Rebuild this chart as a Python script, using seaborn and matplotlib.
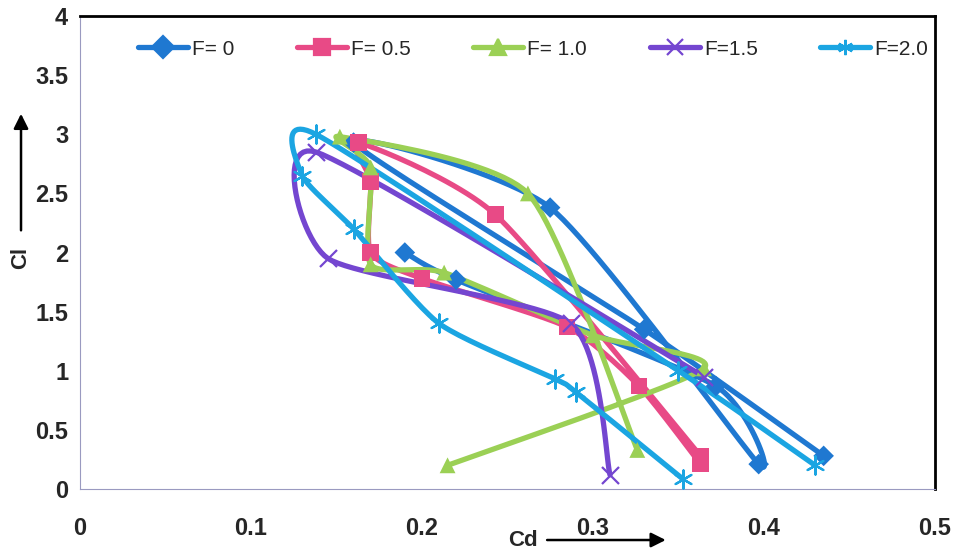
import numpy as np
import pandas as pd
import matplotlib
matplotlib.use("Agg")
import matplotlib.pyplot as plt
from matplotlib.lines import Line2D
import seaborn as sns

# ── Data ──────────────────────────────────────────────────────────
F0_CD = [0.19, 0.22, 0.372, 0.397, 0.275, 0.160, 0.330, 0.435]
F0_CL = [2.00, 1.77, 0.87, 0.21, 2.38, 2.93, 1.35, 0.28]

F05_CD = [0.363, 0.243, 0.163, 0.170, 0.170, 0.200, 0.285, 0.327, 0.363]
F05_CL = [0.28, 2.32, 2.93, 2.60, 2.00, 1.78, 1.37, 0.87, 0.21]

F10_CD = [0.326, 0.262, 0.152, 0.170, 0.170, 0.213, 0.300, 0.365, 0.215]
F10_CL = [0.33, 2.50, 2.98, 2.72, 1.90, 1.83, 1.30, 1.02, 0.20]

F15_CD = [0.310, 0.287, 0.145, 0.138, 0.365]
F15_CL = [0.12, 1.40, 1.95, 2.85, 0.95]

F20_CD = [0.430, 0.350, 0.138, 0.130, 0.160, 0.210, 0.278, 0.290, 0.353]
F20_CL = [0.20, 1.00, 3.00, 2.65, 2.20, 1.40, 0.93, 0.82, 0.08]

LABELS = ["F= 0", "F= 0.5", "F= 1.0", "F=1.5", "F=2.0"]
SERIES = [(F0_CD, F0_CL), (F05_CD, F05_CL), (F10_CD, F10_CL),
          (F15_CD, F15_CL), (F20_CD, F20_CL)]
COLORS = ["#1f78d1", "#e84a86", "#9bd055", "#7446d0", "#1ba5e2"]
MARKERS = ["D", "s", "^", "x", (6, 2, 0)]
MSIZES = [110, 140, 130, 150, 170]


def smooth(x, y, n=24, s=0.33):
    # cardinal spline through the points, like Excel's smoothed line
    p = np.column_stack([x, y])
    p = np.vstack([p[0], p, p[-1]])
    out = []
    for i in range(1, len(p) - 2):
        p1, p2 = p[i], p[i + 1]
        m1 = s * (p[i + 1] - p[i - 1])
        m2 = s * (p[i + 2] - p[i])
        t = np.linspace(0, 1, n, endpoint=False)[:, None]
        h00 = 2 * t**3 - 3 * t**2 + 1
        h10 = t**3 - 2 * t**2 + t
        h01 = -2 * t**3 + 3 * t**2
        h11 = t**3 - t**2
        out.append(h00 * p1 + h10 * m1 + h01 * p2 + h11 * m2)
    out.append(p[-2][None, :])
    pts = np.vstack(out)
    return pts[:, 0], pts[:, 1]


sns.set_style("white")
plt.rcParams["font.family"] = ["Liberation Sans", "DejaVu Sans"]

fig = plt.figure(figsize=(9.55, 5.55), dpi=100)
ax = fig.add_axes([0.0838, 0.119, 0.895, 0.852])

for (cd, cl), lab, col, mk, ms in zip(SERIES, LABELS, COLORS, MARKERS, MSIZES):
    sx, sy = smooth(cd, cl)
    sns.lineplot(x=sx, y=sy, sort=False, estimator=None, color=col,
                 linewidth=3.8, ax=ax, legend=False)
    df = pd.DataFrame({"Cd": cd, "Cl": cl})
    lw = 1.6 if mk in ("x", (6, 2, 0)) else 0
    sns.scatterplot(data=df, x="Cd", y="Cl", marker=mk, s=ms, color=col,
                    edgecolor=col if lw else "none", linewidth=lw,
                    ax=ax, legend=False, zorder=3)

ax.set_xlim(0, 0.5)
ax.set_ylim(0, 4)
ax.set_xticks(np.arange(0, 0.51, 0.1))
ax.set_yticks(np.arange(0, 4.01, 0.5))
ax.set_xticklabels(["0", "0.1", "0.2", "0.3", "0.4", "0.5"])
ax.set_yticklabels(["0", "0.5", "1", "1.5", "2", "2.5", "3", "3.5", "4"])
ax.tick_params(axis="both", labelsize=17, length=5, width=1,
               color="#9a9ac0", direction="out")
ax.tick_params(axis="x", pad=15)
for lbl in ax.get_xticklabels() + ax.get_yticklabels():
    lbl.set_fontweight("bold")
ax.set_xlabel("")
ax.set_ylabel("")

ax.spines["left"].set_color("#9a9ac0")
ax.spines["bottom"].set_color("#9a9ac0")
ax.spines["top"].set_color("black")
ax.spines["right"].set_color("black")
ax.spines["top"].set_linewidth(2)
ax.spines["right"].set_linewidth(2)

handles = [Line2D([0], [0], color=c, lw=3.8, marker=m, markersize=11,
                  markeredgewidth=1.6)
           for c, m in zip(COLORS, MARKERS)]
ax.legend(handles, LABELS, loc="upper center", bbox_to_anchor=(0.53, 0.99),
          ncol=5, frameon=False, fontsize=15, handlelength=2.4,
          columnspacing=3.0, handletextpad=0.2)

# axis titles with arrows
fig.text(0.548, 0.027, "Cd", fontsize=16, fontweight="bold",
         ha="center", va="center")
ax.annotate("", xy=(0.70, 0.027), xytext=(0.57, 0.027),
            xycoords="figure fraction",
            arrowprops=dict(arrowstyle="-|>", color="black", lw=1.8,
                            mutation_scale=22))
fig.text(0.022, 0.535, "Cl", fontsize=16, fontweight="bold", rotation=90,
         ha="center", va="center")
ax.annotate("", xy=(0.022, 0.80), xytext=(0.022, 0.58),
            xycoords="figure fraction",
            arrowprops=dict(arrowstyle="-|>", color="black", lw=1.8,
                            mutation_scale=22))

fig.savefig("out.png", dpi=100)
